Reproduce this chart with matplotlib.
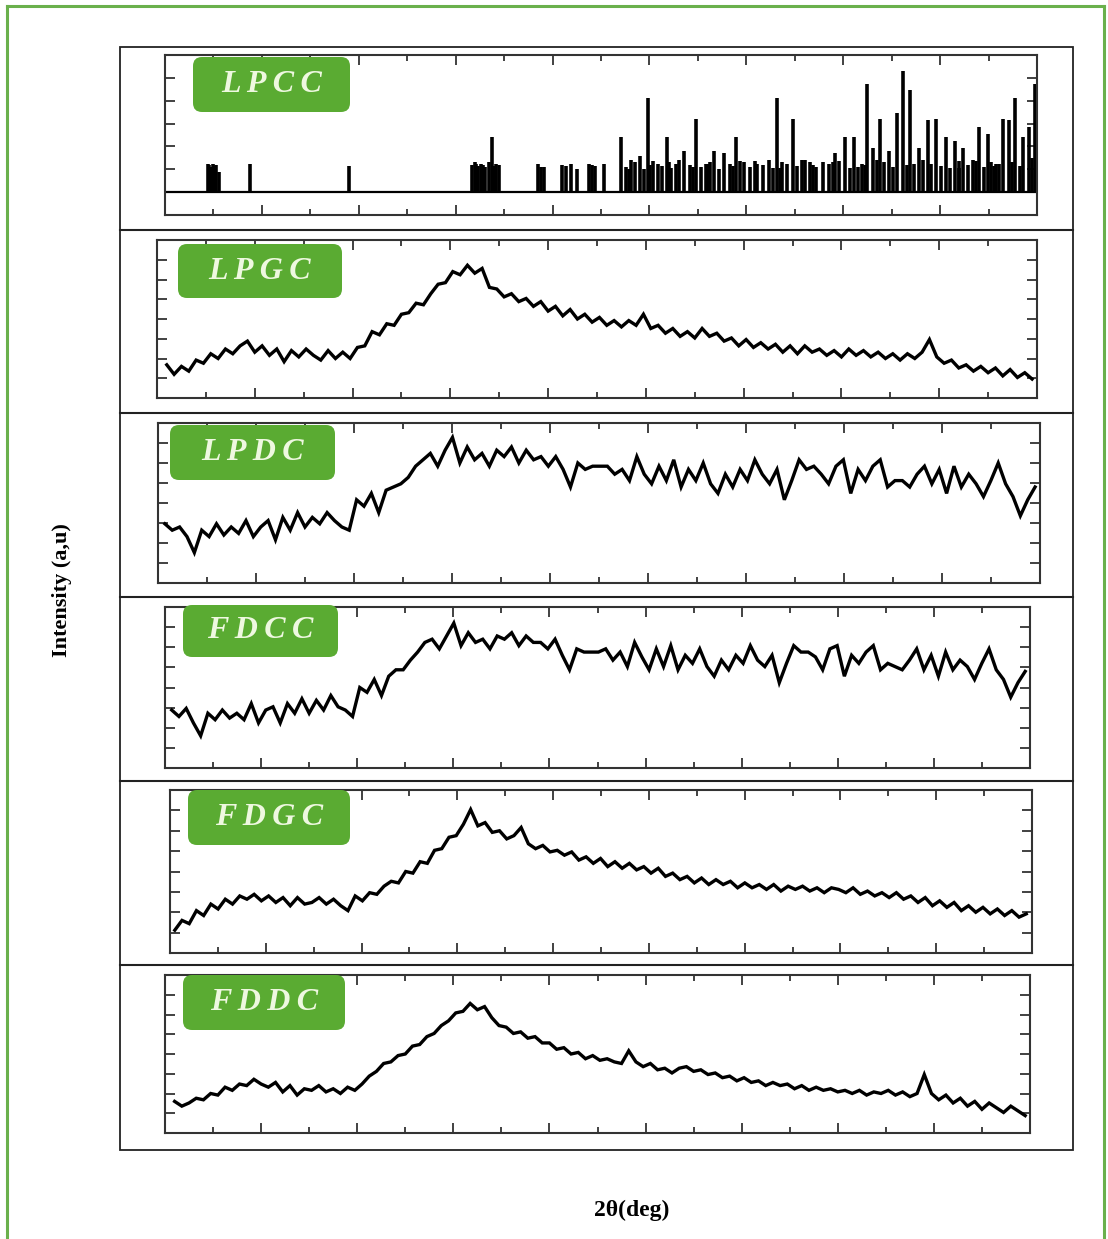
import matplotlib
matplotlib.use("Agg")
import matplotlib.pyplot as plt
import numpy as np
from matplotlib.patches import FancyBboxPatch, Rectangle
from matplotlib.lines import Line2D
from matplotlib.ticker import MultipleLocator
from matplotlib.transforms import IdentityTransform

# ---- data (intensity in % of panel height) ----
lpcc_pos = [14.4, 14.7, 15.0, 15.3, 15.6, 18.8, 29.0,
            41.7, 42.0, 42.3, 42.6, 43.0, 43.4, 43.8, 44.2, 44.5,
            48.5, 49.1, 51.0, 51.9, 52.5, 53.8, 54.4, 55.3,
            57.1, 58.1, 59.0, 59.9, 60.9, 61.8, 62.7, 63.6, 64.8, 65.8,
            66.7, 67.7, 68.9, 69.8, 71.1, 72.3, 73.2, 74.2, 74.8, 75.7,
            76.6, 77.9, 79.1, 80.2, 81.1, 81.9, 82.5, 83.1, 83.8, 84.7,
            85.6, 86.2, 86.9, 87.8, 88.7, 89.6, 90.6, 91.5, 92.4, 93.4,
            94.0, 94.9, 95.8, 96.5, 97.1, 97.7, 98.6, 99.2, 99.8]
lpcc_int = [25, 22, 25, 24, 18, 25, 23,
            24, 26, 23, 25, 22, 26, 48, 25, 24,
            25, 22, 24, 25, 20, 25, 23, 25,
            48, 28, 32, 82, 25, 48, 25, 36, 64, 25,
            36, 34, 48, 26, 25, 28, 82, 25, 64, 28,
            26, 26, 34, 48, 48, 25, 95, 39, 64, 36,
            69, 106, 89, 39, 63, 64, 48, 45, 39, 28,
            57, 51, 25, 64, 63, 82, 48, 57, 95]
lpcc_fill_pos = [14.55, 15.15, 42.15, 42.8, 44.0, 48.8, 51.4, 54.1,
                 57.6, 58.5, 59.4, 60.4, 61.3, 62.2, 63.1, 64.2, 65.3, 66.2,
                 67.2, 68.3, 69.3, 70.4, 71.7, 72.8, 73.7, 75.2, 76.1, 77.2,
                 78.5, 79.6, 80.7, 82.2, 84.2, 85.1, 87.3, 88.2, 90.1, 91.0,
                 92.0, 92.9, 94.5, 95.3, 96.1, 98.2, 57.9, 60.1, 62.0, 64.5,
                 66.0, 68.6, 70.9, 73.5, 76.9, 78.9, 81.5, 83.5, 86.6, 89.1,
                 91.9, 93.7, 95.6, 97.4, 99.5]
lpcc_fill_int = [24, 23, 25, 24, 23, 22, 23, 24,
                 22, 26, 20, 27, 23, 21, 28, 24, 22, 26,
                 20, 25, 27, 22, 24, 21, 26, 23, 28, 22,
                 25, 27, 21, 24, 26, 22, 25, 28, 23, 21,
                 27, 24, 22, 26, 25, 23, 20, 24, 26, 22,
                 25, 23, 27, 21, 24, 26, 22, 28, 24, 25,
                 21, 27, 23, 26, 30]

lpgc = [21, 15, 20, 17, 24, 22, 28, 25, 31, 28, 33, 36, 29, 33, 27, 31, 23, 30, 26, 31,
        27, 24, 30, 25, 29, 25, 32, 33, 42, 40, 47, 46, 53, 54, 60, 59, 66, 72, 73, 80,
        78, 84, 79, 82, 70, 69, 64, 66, 61, 63, 58, 61, 55, 58, 52, 56, 50, 53, 48, 51,
        46, 49, 45, 49, 46, 53, 44, 46, 41, 44, 39, 42, 38, 44, 39, 41, 36, 38, 33, 37,
        32, 35, 31, 34, 29, 33, 28, 33, 29, 31, 27, 30, 26, 31, 27, 30, 26, 29, 25, 28,
        24, 28, 25, 29, 37, 26, 22, 24, 19, 21, 17, 20, 16, 19, 14, 18, 13, 16, 12]

lpdc = [37, 33, 35, 29, 19, 33, 29, 37, 30, 35, 31, 39, 29, 35, 39, 27, 41, 33, 44, 35,
        41, 37, 44, 39, 35, 33, 52, 48, 56, 44, 58, 60, 62, 66, 73, 77, 81, 73, 83, 91,
        75, 85, 77, 81, 73, 83, 79, 85, 75, 83, 77, 79, 73, 79, 71, 60, 75, 71, 73,
        73, 73, 68, 71, 64, 79, 68, 62, 73, 64, 77, 60, 71, 64, 75, 62, 56, 68, 60, 71,
        64, 77, 68, 62, 71, 52, 64, 77, 71, 73, 68, 62, 73, 77, 56, 71, 64, 73, 77, 60,
        64, 64, 60, 68, 73, 62, 71, 56, 73, 60, 68, 62, 54, 64, 75, 62, 54, 42, 52, 60]

fdcc = [36, 32, 37, 28, 20, 34, 30, 36, 31, 34, 30, 40, 28, 36, 38, 28, 40, 34, 43, 34,
        42, 36, 45, 38, 36, 32, 50, 47, 55, 45, 57, 61, 61, 67, 72, 78, 80, 74, 82, 90,
        76, 84, 78, 80, 74, 82, 80, 84, 76, 82, 78, 78, 74, 80, 70, 61, 74, 72, 72,
        72, 74, 67, 72, 63, 78, 69, 61, 74, 63, 76, 61, 70, 65, 74, 63, 57, 67, 61, 70,
        65, 76, 67, 63, 70, 53, 65, 76, 72, 72, 69, 61, 74, 76, 57, 70, 65, 72, 76, 61,
        65, 63, 61, 67, 74, 61, 70, 57, 72, 61, 67, 63, 55, 65, 74, 61, 55, 44, 53, 60]

fdgc = [14, 20, 18, 26, 23, 30, 27, 33, 30, 35, 33, 36, 32, 35, 31, 34, 29, 34, 30, 31,
        34, 30, 33, 29, 26, 35, 32, 37, 36, 41, 44, 43, 50, 49, 56, 55, 63, 64, 71, 72,
        79, 88, 78, 80, 74, 75, 70, 72, 77, 67, 64, 66, 62, 63, 60, 62, 57, 59, 55, 58,
        53, 56, 52, 55, 51, 53, 49, 52, 47, 49, 45, 47, 43, 46, 42, 45, 42, 44, 40, 43,
        40, 42, 39, 42, 38, 41, 39, 41, 38, 40, 37, 40, 39, 37, 40, 36, 38, 35, 37, 34,
        37, 33, 35, 31, 34, 29, 32, 28, 31, 26, 29, 25, 28, 24, 27, 23, 26, 22, 24]

fddc = [20, 17, 19, 22, 21, 25, 24, 29, 27, 31, 30, 34, 31, 29, 32, 26, 30, 24, 28, 27,
        30, 26, 28, 25, 29, 27, 31, 36, 39, 44, 45, 49, 50, 55, 56, 61, 63, 68, 71, 76,
        77, 82, 78, 80, 73, 68, 67, 63, 64, 60, 61, 57, 57, 53, 54, 50, 51, 47, 49, 46,
        47, 45, 44, 52, 45, 42, 44, 40, 41, 38, 41, 42, 39, 40, 37, 38, 35, 36, 33, 35,
        32, 33, 30, 32, 30, 31, 28, 30, 27, 29, 27, 28, 26, 27, 25, 27, 24, 26, 25, 27,
        24, 26, 23, 25, 37, 25, 21, 24, 19, 22, 17, 20, 15, 19, 16, 13, 17, 14, 11]

samples = ["LPCC", "LPGC", "LPDC", "FDCC", "FDGC", "FDDC"]
scans = {"LPGC": (11.0, 99.5, lpgc), "LPDC": (10.7, 99.5, lpdc),
         "FDCC": (10.7, 99.5, fdcc), "FDGC": (10.5, 99.4, fdgc),
         "FDDC": (11.0, 99.5, fddc)}

# ---- layout (pixels) ----
W, H = 1108, 1239
frames = [(165, 55, 1037, 215), (157, 240, 1037, 398), (158, 423, 1040, 583),
          (165, 607, 1030, 768), (170, 790, 1032, 953), (165, 975, 1030, 1133)]
tags = [(193, 57, 350, 112), (178, 244, 342, 298), (170, 425, 335, 480),
        (183, 605, 338, 657), (188, 790, 350, 845), (183, 975, 345, 1030)]
GREEN = "#5aab32"

fig = plt.figure(figsize=(W / 100, H / 100), dpi=100)
fig.patch.set_facecolor("white")

def frac(x0, y0, x1, y1):
    return [x0 / W, 1 - y1 / H, (x1 - x0) / W, (y1 - y0) / H]

for k, name in enumerate(samples):
    ax = fig.add_axes(frac(*frames[k]))
    if name == "LPCC":
        ax.vlines(lpcc_pos, 0, lpcc_int, color="black", lw=2.6)
        ax.vlines(lpcc_fill_pos, 0, lpcc_fill_int, color="black", lw=2.6)
        ax.axhline(0, color="black", lw=1.6)
        ax.set_ylim(-20, 120)
        ax.yaxis.set_major_locator(MultipleLocator(20))
    else:
        start, stop, vals = scans[name]
        x = np.linspace(start, stop, len(vals))
        ax.plot(x, vals, color="black", lw=2.4, solid_joinstyle="miter")
        ax.set_ylim(0, 100)
        ax.yaxis.set_major_locator(MultipleLocator(12.5))
    ax.set_xlim(10, 100)
    ax.xaxis.set_major_locator(MultipleLocator(10))
    ax.xaxis.set_minor_locator(MultipleLocator(5))
    ax.tick_params(which="both", direction="in", top=True, right=True,
                   labelbottom=False, labelleft=False, color="#333333", width=1.3)
    ax.tick_params(which="major", length=7)
    ax.tick_params(which="minor", length=4)
    for s in ax.spines.values():
        s.set_linewidth(1.5)
        s.set_color("#333333")

    x0, y0, x1, y1 = tags[k]
    box = FancyBboxPatch((x0, H - y1), x1 - x0, y1 - y0,
                         boxstyle="round,pad=0,rounding_size=9",
                         transform=IdentityTransform(), facecolor=GREEN,
                         edgecolor="none", zorder=5)
    fig.add_artist(box)
    fig.text((x0 + x1) / 2 / W, 1 - (y0 + y1) / 2 / H, "\u2009".join(name),
             ha="center", va="center", fontsize=23, color="#eef8e0",
             family=["Liberation Serif", "DejaVu Serif"], fontweight="bold",
             fontstyle="italic", zorder=6)

# outer black box and separators
fig.add_artist(Rectangle((120 / W, 1 - 1150 / H), (1073 - 120) / W, (1150 - 47) / H,
                         transform=fig.transFigure, fill=False, edgecolor="#222222", lw=1.3))
for yy in [230, 413, 597, 781, 965]:
    fig.add_artist(Line2D([120 / W, 1073 / W], [1 - yy / H, 1 - yy / H],
                          transform=fig.transFigure, color="#222222", lw=1.5))

# green outer border
for xs, ys in [([7, 7], [6, 1239]), ([7, 1104], [6, 6]), ([1104, 1104], [6, 1239])]:
    fig.add_artist(Line2D([v / W for v in xs], [1 - v / H for v in ys],
                          transform=fig.transFigure, color="#6ab04c", lw=2.2))

fig.text(62 / W, 1 - 590 / H, "Intensity (a,u)", rotation=90, ha="center", va="center",
         fontsize=16, fontweight="bold", family="Liberation Serif")
fig.text(632 / W, 1 - 1210 / H, "2\u03b8(deg)", ha="center", va="center",
         fontsize=17, fontweight="bold", family="Liberation Serif")

fig.savefig("out.png", dpi=100)
